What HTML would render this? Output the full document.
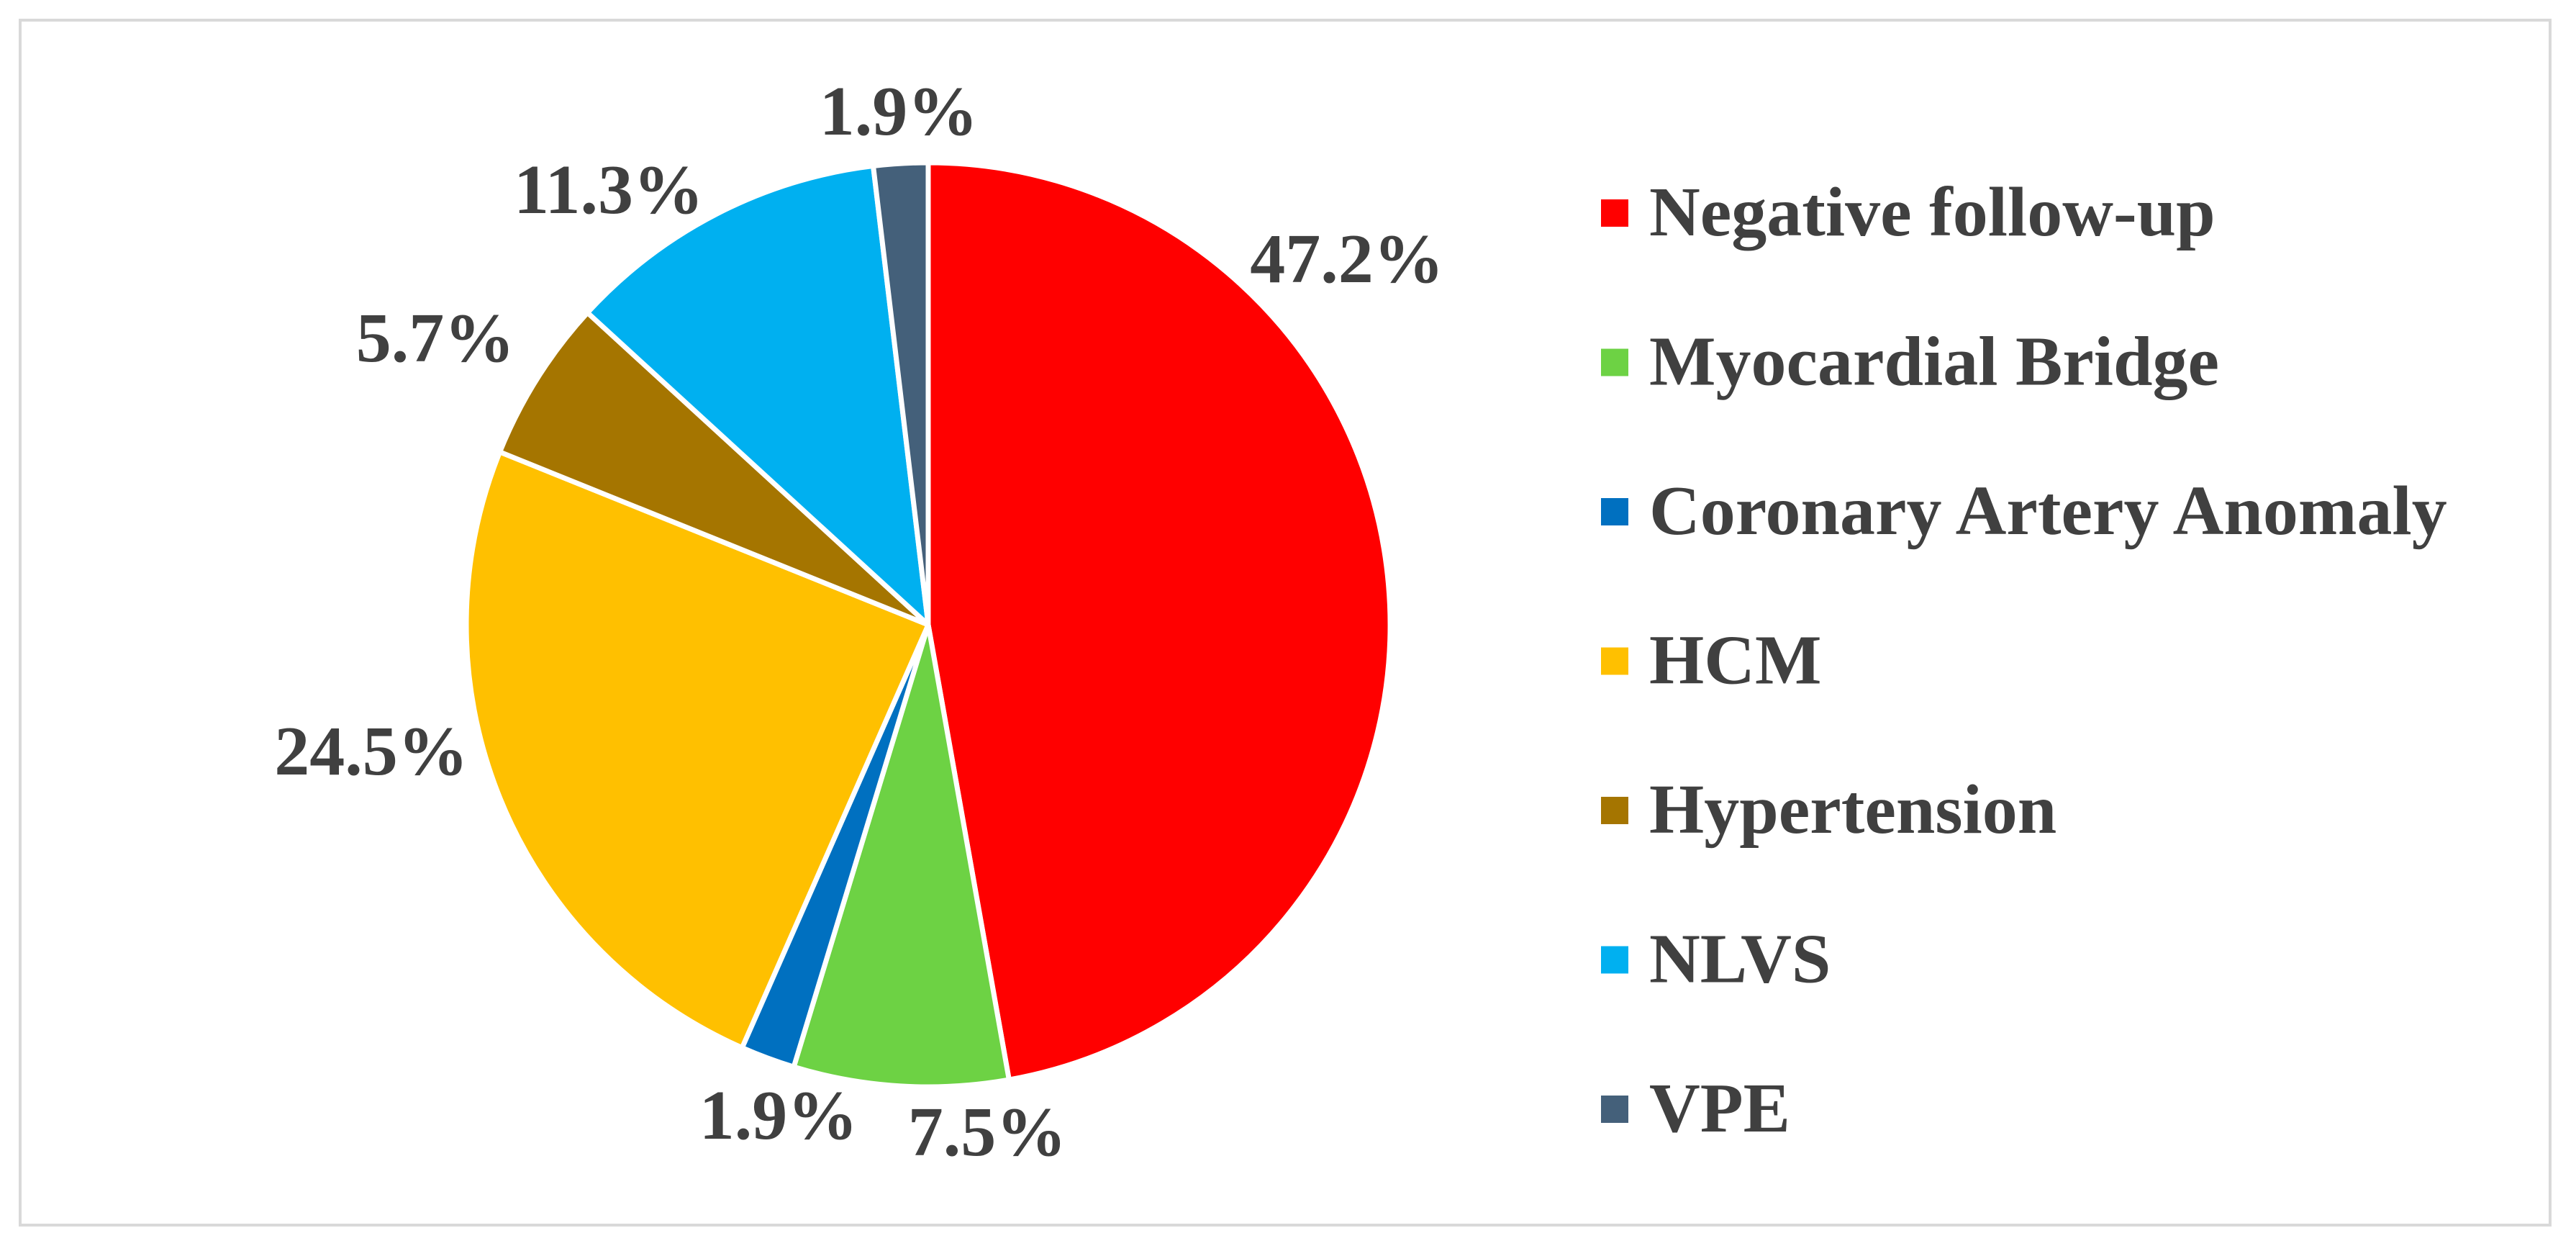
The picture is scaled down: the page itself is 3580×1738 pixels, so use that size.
<!DOCTYPE html>
<html><head><meta charset="utf-8"><style>
html,body{margin:0;padding:0;background:#fff;}
svg{display:block;}
text{font-family:"Liberation Serif",serif;font-weight:bold;fill:#404040;}
</style></head><body>
<svg id="chart" width="3580" height="1738" viewBox="0 0 3580 1738">
<rect x="28" y="28" width="3516" height="1674" fill="#fff" stroke="#d9d9d9" stroke-width="4"/>
<g id="slices"></g>
<g id="labels"></g>
<g id="legend"></g>
</svg>
<script>
const categories = ["Negative follow-up","Myocardial Bridge","Coronary Artery Anomaly","HCM","Hypertension","NLVS","VPE"];
const values = [47.2, 7.5, 1.9, 24.5, 5.7, 11.3, 1.9];
const colors = ["#FF0000","#6DD244","#0070C0","#FFC000","#A57500","#00B0F0","#44607A"];
const labelAnchors = [[1872,392],[1372,1605],[1082,1582],[516,1076],[605,502],[846,296],[1249,187]];

const NS = "http://www.w3.org/2000/svg";
const cx = 1290, cy = 868, R = 642;
const total = values.reduce((a,b)=>a+b,0);
function angleOf(v){ return v/total*2*Math.PI; }
function pt(a,r){ return [cx + r*Math.sin(a), cy - r*Math.cos(a)]; }

const sg = document.getElementById('slices');
const lg = document.getElementById('labels');
const leg = document.getElementById('legend');
let start = 0;
values.forEach((v,i)=>{
  const a = angleOf(v);
  const end = start + a;
  const p0 = pt(start,R), p1 = pt(end,R);
  const large = a > Math.PI ? 1 : 0;
  const path = document.createElementNS(NS,'path');
  path.setAttribute('d',`M${cx},${cy} L${p0[0]},${p0[1]} A${R},${R} 0 ${large} 1 ${p1[0]},${p1[1]} Z`);
  path.setAttribute('fill',colors[i]);
  path.setAttribute('stroke','#fff');
  path.setAttribute('stroke-width','7');
  path.setAttribute('stroke-linejoin','round');
  
  
  sg.appendChild(path);

  const t = document.createElementNS(NS,'text');
  t.setAttribute('x',labelAnchors[i][0]);
  t.setAttribute('y',labelAnchors[i][1]);
  t.setAttribute('text-anchor','middle');
  t.setAttribute('font-size','98');
  t.textContent = v.toFixed(1) + '%';
  
  
  lg.appendChild(t);

  const y0 = 327 + i*207.5;
  const sq = document.createElementNS(NS,'rect');
  sq.setAttribute('x',2225); sq.setAttribute('y',y0-50);
  sq.setAttribute('width',38); sq.setAttribute('height',38);
  sq.setAttribute('fill',colors[i]);
  
  
  leg.appendChild(sq);
  const lt = document.createElementNS(NS,'text');
  lt.setAttribute('x',2292); lt.setAttribute('y',y0);
  lt.setAttribute('font-size','98');
  lt.textContent = categories[i];
  
  
  leg.appendChild(lt);
  start = end;
});
</script>
</body></html>
